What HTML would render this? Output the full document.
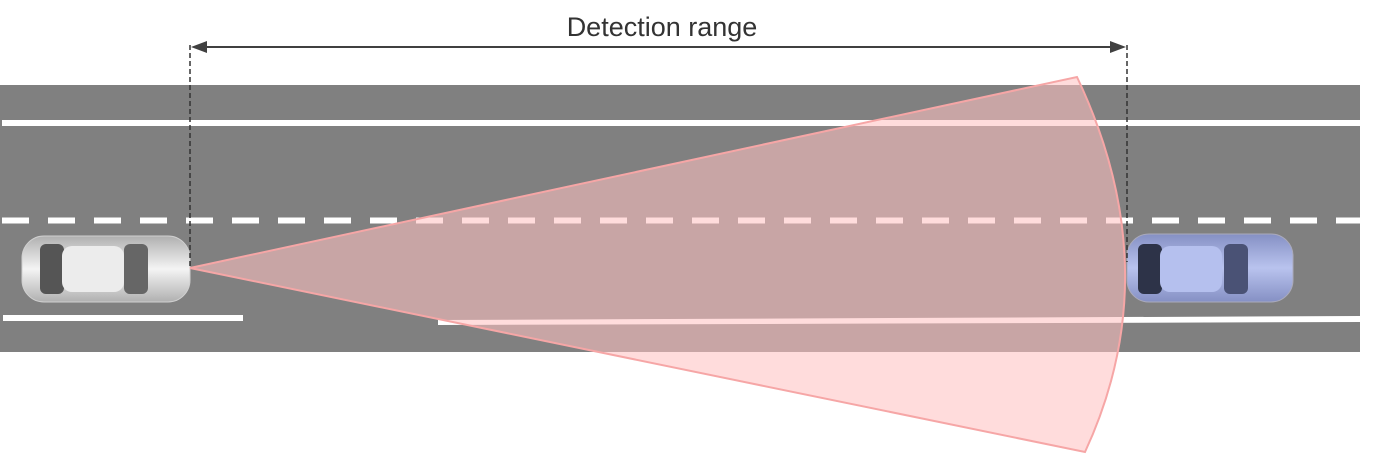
<!DOCTYPE html>
<html><head><meta charset="utf-8"><style>
html,body{margin:0;padding:0;background:#fff;width:1382px;height:456px;overflow:hidden}
</style></head><body>
<svg width="1382" height="456" viewBox="0 0 1382 456" xmlns="http://www.w3.org/2000/svg">
<defs>
<linearGradient id="g1" x1="0" y1="0" x2="0" y2="1">
<stop offset="0" stop-color="#b0b0b0"/><stop offset="0.5" stop-color="#f4f4f4"/><stop offset="1" stop-color="#b0b0b0"/></linearGradient>
<linearGradient id="g2" x1="0" y1="0" x2="0" y2="1">
<stop offset="0" stop-color="#8590c4"/><stop offset="0.5" stop-color="#b9c3ee"/><stop offset="1" stop-color="#8590c4"/></linearGradient>
</defs>
<rect x="0" y="85" width="1360" height="267" fill="#808080"/>
<rect x="2" y="120" width="1358" height="6" fill="#fff"/>
<line x1="2" y1="220.5" x2="1360" y2="220.5" stroke="#fff" stroke-width="6" stroke-dasharray="27 19"/>
<rect x="3" y="315" width="240" height="6" fill="#fff"/>
<polygon points="438,320 1360,316 1360,322 438,325" fill="#fff"/>
<g>
<rect x="22" y="236" width="168" height="66" rx="22" fill="url(#g1)" stroke="#d0d0d0"/>
<rect x="40" y="244" width="24" height="50" rx="6" fill="#555"/>
<rect x="62" y="246" width="62" height="46" rx="10" fill="#ececec"/>
<rect x="124" y="244" width="24" height="50" rx="6" fill="#666"/>
</g>
<g>
<rect x="1127" y="234" width="166" height="68" rx="22" fill="url(#g2)" stroke="#aab"/>
<rect x="1138" y="244" width="24" height="50" rx="6" fill="#2d3348"/>
<rect x="1160" y="246" width="62" height="46" rx="10" fill="#b5c0ee"/>
<rect x="1224" y="244" width="24" height="50" rx="6" fill="#4a5275"/>
</g>
<path d="M190,268 L1077,77 Q1169,271 1085,452 Z" fill="rgb(255,193,193)" fill-opacity="0.567" stroke="#f6a6a6" stroke-width="2"/>
<line x1="190" y1="45" x2="190" y2="268" stroke="#333" stroke-width="1.5" stroke-dasharray="5 3"/>
<line x1="1127" y1="45" x2="1127" y2="262" stroke="#333" stroke-width="1.5" stroke-dasharray="5 3"/>
<line x1="196" y1="47" x2="1121" y2="47" stroke="#404040" stroke-width="2"/>
<polygon points="191,47 207,41 207,53" fill="#404040"/>
<polygon points="1126,47 1110,41 1110,53" fill="#404040"/>
<text x="662" y="36" text-anchor="middle" font-family="Liberation Sans, sans-serif" font-size="27" fill="#333">Detection range</text>
</svg>
</body></html>
